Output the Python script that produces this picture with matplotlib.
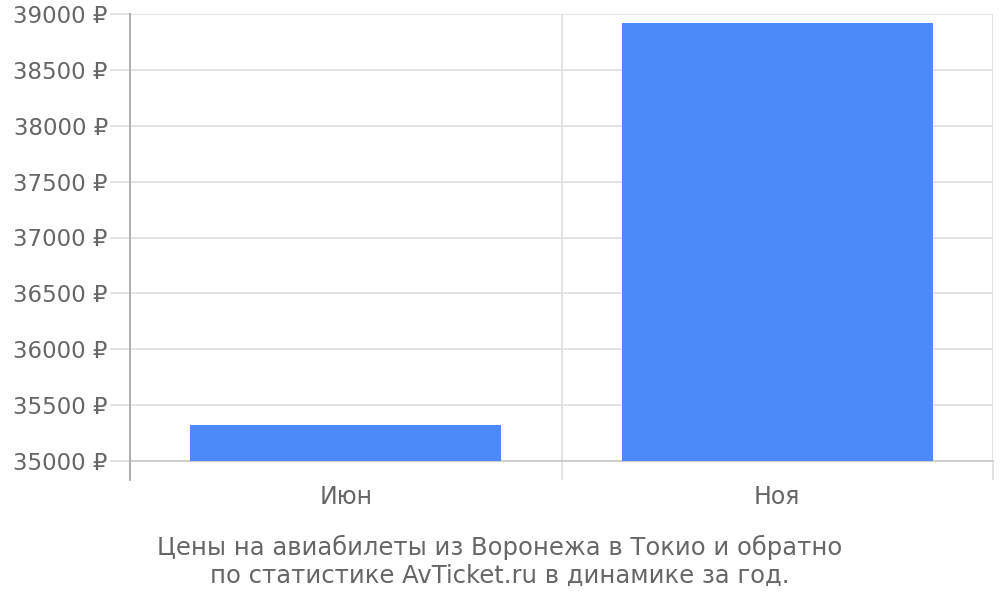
import numpy as np
import matplotlib
matplotlib.use("Agg")
import matplotlib.pyplot as plt
from matplotlib.ticker import FixedLocator, FuncFormatter

# ── DATA ──────────────────────────────────────────────────────
months = ["Июн", "Ноя"]
prices = [35320, 38920]
y_ticks = [35000, 35500, 36000, 36500, 37000, 37500, 38000, 38500, 39000]
caption = ("Цены на авиабилеты из Воронежа в Токио и обратно\n"
           "по статистике AvTicket.ru в динамике за год.")

# ── STYLE ─────────────────────────────────────────────────────
BAR_COLOR  = "#4d8af9"
TEXT_COLOR = "#666666"
GRID_COLOR = "#e0e0e0"
AXIS_COLOR = "#aaaaaa"
plt.rcParams["font.family"] = ["DejaVu Sans"]

fig = plt.figure(figsize=(10, 6), dpi=100)
ax = fig.add_axes([0.13, 1 - 461 / 600, 0.863, (461 - 14) / 600])

x = np.arange(len(months))
ax.bar(x, prices, width=0.72, color=BAR_COLOR, zorder=3)

ax.set_xlim(-0.5, len(months) - 0.5)
ax.set_ylim(y_ticks[0], y_ticks[-1])

# y axis (lengths in points: 1 px = 0.72 pt at dpi 100)
ax.yaxis.set_major_locator(FixedLocator(y_ticks))
ax.yaxis.set_major_formatter(FuncFormatter(lambda v, p: f"{int(v)} ₽"))
ax.tick_params(axis="y", length=14.5, width=1.3, color=GRID_COLOR,
               labelsize=16.5, labelcolor=TEXT_COLOR, pad=1.5)
ax.grid(axis="y", color=GRID_COLOR, lw=1.3, zorder=0)

# x axis: labels at centres, ticks/grid at category boundaries
ax.set_xticks(x)
ax.set_xticklabels(months)
ax.tick_params(axis="x", which="major", length=0, labelsize=17,
               labelcolor=TEXT_COLOR, pad=17)
bounds = np.arange(len(months) + 1) - 0.5
ax.set_xticks(bounds, minor=True)
ax.tick_params(axis="x", which="minor", length=14, width=1.3, color=GRID_COLOR)
ax.grid(axis="x", which="minor", color=GRID_COLOR, lw=1.3, zorder=0)

for s in ["top", "right"]:
    ax.spines[s].set_visible(False)
ax.spines["left"].set_color(AXIS_COLOR)
ax.spines["left"].set_linewidth(1.3)
ax.spines["left"].set_bounds(y_ticks[0] - 170, y_ticks[-1])
ax.spines["bottom"].set_color("#cccccc")
ax.spines["bottom"].set_linewidth(1.3)
ax.spines["left"].set_zorder(4)

fig.text(0.5, 1 - 561 / 600, caption, ha="center", va="center",
         fontsize=17.5, color=TEXT_COLOR, linespacing=1.2)

fig.savefig("out.png", dpi=100)
